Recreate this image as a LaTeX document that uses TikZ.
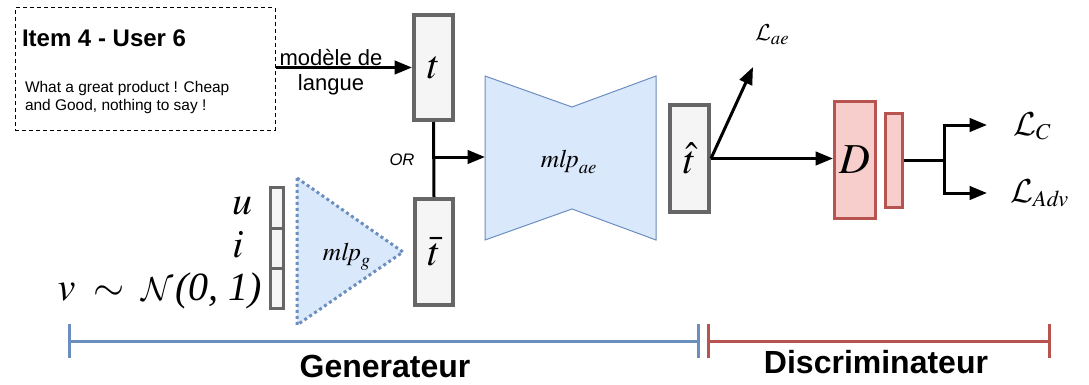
\documentclass[tikz,border=0pt]{standalone}
\usepackage{mathptmx}
\DeclareMathAlphabet{\mathcal}{OMS}{cmsy}{m}{n}
\usepackage[no-math]{fontspec}
\setmainfont{Liberation Sans}
\newfontfamily\tms{Liberation Serif}
\usetikzlibrary{arrows.meta}
\definecolor{grayline}{HTML}{666666}
\definecolor{grayfill}{HTML}{F5F5F5}
\definecolor{bluefill}{HTML}{DAE8FC}
\definecolor{blueline}{HTML}{6C8EBF}
\definecolor{redfill}{HTML}{F8CECC}
\definecolor{redline}{HTML}{B85450}
\tikzset{
  vecbox/.style={draw=grayline, fill=grayfill, line width=3pt, inner sep=0pt},
  cellbox/.style={draw=grayline, fill=grayfill, line width=2.25pt, inner sep=0pt, minimum width=9.75pt},
  redbox/.style={draw=redline, fill=redfill, line width=2.25pt, inner sep=0pt},
  conn/.style={line width=2.25pt, -{Triangle[length=13pt,width=10pt]}},
  plainconn/.style={line width=2.25pt},
  lbl/.style={inner sep=0pt, outer sep=0pt},
  bracebar/.style={line width=2.25pt},
}
\begin{document}
\begin{tikzpicture}[x=0.75pt,y=-0.75pt]
\useasboundingbox (0,0) rectangle (1089,385);

% source text box
\node[draw, dash pattern=on 3pt off 2.25pt, line width=0.75pt, minimum width=195pt, minimum height=91.5pt, inner sep=0pt] (src) at (145,69) {};
\node[lbl, anchor=base west] (title) at (22,47) {\fontsize{18}{20}\selectfont\bfseries Item 4 - User 6};
\node[lbl, anchor=base west] (body1) at (25,93) {\fontsize{11.6}{13}\selectfont What a great product ! Cheap};
\node[lbl, anchor=base west] (body2) at (25,110) {\fontsize{11.6}{13}\selectfont and Good, nothing to say !};

% vectors
\node[vecbox, minimum width=29.25pt, minimum height=78.75pt] (t) at (433.5,67.5) {\fontsize{30}{32}\selectfont $t$};
\node[vecbox, minimum width=28.5pt, minimum height=79.5pt] (tbar) at (434,252) {\fontsize{30}{32}\selectfont $\bar{t}$};
\node[vecbox, minimum width=29.25pt, minimum height=80.25pt] (that) at (689.5,158.5) {\fontsize{30}{32}\selectfont $\hat{t}$};

% language model arrow
\draw[conn] (src.east |- t.west) -- (t.west);
\node[lbl, anchor=base] (lm1) at (331,65) {\fontsize{16.5}{18}\selectfont modèle de};
\node[lbl, anchor=base] (lm2) at (331,90) {\fontsize{16.5}{18}\selectfont langue};

% generator input cells
\node[cellbox, minimum height=30.75pt] (cu) at (276.5,207.5) {};
\node[cellbox, minimum height=30pt] (ci) at (276.5,248) {};
\node[cellbox, minimum height=30pt] (cv) at (276.5,288) {};
\node[lbl, anchor=base] (ul) at (242,214) {\fontsize{30}{32}\selectfont $u$};
\node[lbl, anchor=base] (il) at (238,257) {\fontsize{30}{32}\selectfont $i$};
\node[lbl, anchor=base east] (vl) at (262,300) {\fontsize{30}{32}\selectfont $v\;\sim\;\mathcal{N}$\kern1pt{\tms\itshape (0, 1)}};

% mlp_g triangle
\draw[draw=blueline, fill=bluefill, line width=2.25pt, dash pattern=on 2.25pt off 2.25pt] (297,178) -- (403,252) -- (297,325) -- cycle;
\node[lbl, anchor=base] (g) at (347,260) {\fontsize{19}{21}\selectfont $\mathit{mlp}_{\mathit{g}}$};

% OR junction
\draw[plainconn] (t.south) -- (tbar.north);
\coordinate (j) at (433.5,157);
\coordinate (aeW) at (485,157);
\draw[conn] (j) -- (aeW);
\node[lbl, anchor=base] (or) at (402,166) {\fontsize{12.5}{14}\selectfont\itshape OR};

% autoencoder bowtie
\draw[draw=blueline, fill=bluefill, line width=0.75pt] (485,76) -- (572,107) -- (656,76) -- (656,240) -- (572,209) -- (485,240) -- cycle;
\node[lbl, anchor=base] (ae) at (569,167) {\fontsize{19}{21}\selectfont $\mathit{mlp}_{\mathit{ae}}$};

% losses from t-hat
\coordinate (laetip) at (753,67);
\draw[conn] (that.east) -- (laetip);
\node[lbl, anchor=base west] (lae) at (755,41) {\fontsize{19}{21}\selectfont $\mathcal{L}_{\mathit{ae}}$};

% discriminator
\node[redbox, minimum width=30.75pt, minimum height=87.75pt] (D) at (855,160) {\fontsize{32}{34}\selectfont $D$};
\node[redbox, minimum width=12.75pt, minimum height=70.5pt] (Ds) at (894,160.5) {};
\draw[conn] (that.east) -- (that.east -| D.west);

\coordinate (br) at (944,160.5);
\coordinate (cTip) at (987,125);
\coordinate (aTip) at (987,193);
\draw[plainconn] (Ds.east) -- (br);
\draw[conn] (br) |- (cTip);
\draw[conn] (br) |- (aTip);
\node[lbl, anchor=base west] (lc) at (1013,135) {\fontsize{23}{25}\selectfont $\mathcal{L}_{C}$};
\node[lbl, anchor=base west] (ladv) at (1010,202) {\fontsize{23}{25}\selectfont $\mathcal{L}_{\mathit{Adv}}$};

% bottom bars
\coordinate (g1) at (69,341);
\coordinate (g2) at (698,341);
\coordinate (r1) at (708,341);
\coordinate (r2) at (1049,341);
\draw[bracebar, blueline] (g1) -- (g2);
\draw[bracebar, blueline] ([yshift=-13]g1) -- ([yshift=13]g1);
\draw[bracebar, blueline] ([yshift=-13]g2) -- ([yshift=13]g2);
\draw[bracebar, redline] (r1) -- (r2);
\draw[bracebar, redline] ([yshift=-13]r1) -- ([yshift=13]r1);
\draw[bracebar, redline] ([yshift=-13]r2) -- ([yshift=13]r2);
\node[lbl, anchor=base] (gen) at (385,377) {\fontsize{24}{26}\selectfont\bfseries Generateur};
\node[lbl, anchor=base] (dis) at (876,373) {\fontsize{24}{26}\selectfont\bfseries Discriminateur};
\end{tikzpicture}
\end{document}
